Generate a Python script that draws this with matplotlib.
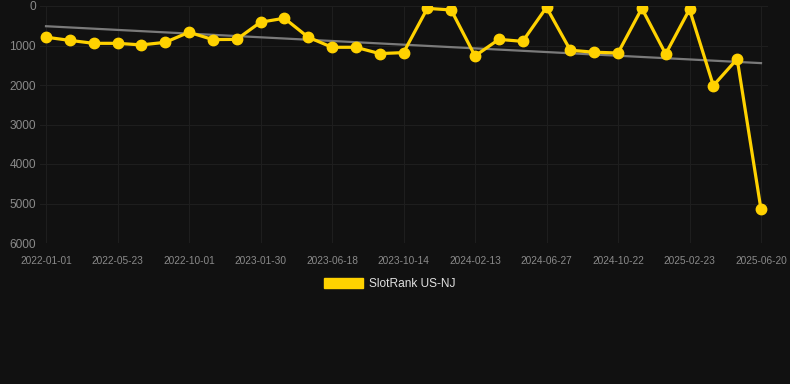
import numpy as np
import matplotlib
matplotlib.use("Agg")
import matplotlib.pyplot as plt
from matplotlib.patches import Patch

plt.rcParams["font.family"] = ["Liberation Sans", "DejaVu Sans"]

# ----------------------------------------
# data
# ----------------------------------------
dates = [
    "2022-01-01", "2022-02-17", "2022-04-06",
    "2022-05-23", "2022-07-06", "2022-08-19",
    "2022-10-01", "2022-11-10", "2022-12-20",
    "2023-01-30", "2023-03-17", "2023-05-02",
    "2023-06-18", "2023-07-27", "2023-09-04",
    "2023-10-14", "2023-11-24", "2024-01-03",
    "2024-02-13", "2024-03-29", "2024-05-13",
    "2024-06-27", "2024-08-04", "2024-09-12",
    "2024-10-22", "2024-12-03", "2025-01-13",
    "2025-02-23", "2025-04-03", "2025-05-12",
    "2025-06-20",
]

rank = [
    790, 870, 945, 945, 985, 920, 665, 850, 845, 410,
    310, 790, 1045, 1045, 1205, 1180, 60, 100, 1265, 845,
    895, 35, 1120, 1170, 1190, 60, 1215, 85, 2015, 1340,
    5150,
]

tick_labels = dates[::3]
series_name = "SlotRank US-NJ"

bg = "#111111"
yellow = "#FFD200"

# ----------------------------------------
# plot
# ----------------------------------------
fig = plt.figure(figsize=(7.9, 3.84), dpi=100, facecolor=bg)

px = 715 / 30
ax = fig.add_axes([40 / 790, 1 - 243 / 384, 728 / 790, 237 / 384], facecolor=bg)

x = np.arange(len(rank))

# linear trend
coef = np.polyfit(x, rank, 1)
ax.plot(x, np.polyval(coef, x), color="#7a7a7a", linewidth=1.6, zorder=2)

ax.plot(
    x,
    rank,
    color=yellow,
    linewidth=2.3,
    marker="o",
    markersize=7.5,
    zorder=3,
)

ax.set_xlim(-6 / px, 30 + 7 / px)
ax.set_ylim(6000, 0)

ax.set_xticks(x[::3])
ax.set_xticklabels(tick_labels)
ax.set_yticks([0, 1000, 2000, 3000, 4000, 5000, 6000])

ax.tick_params(axis="x", colors="#8a8a8a", labelsize=7.3, length=0, pad=9)
ax.tick_params(axis="y", colors="#8a8a8a", labelsize=8.6, length=0, pad=3)

ax.grid(True, color="#1e1e1e", linewidth=0.8)
for s in ax.spines.values():
    s.set_visible(False)

fig.legend(
    handles=[Patch(facecolor=yellow, edgecolor=yellow)],
    labels=[series_name],
    loc="center",
    bbox_to_anchor=(390 / 790, 1 - 284 / 384),
    frameon=False,
    fontsize=8.6,
    labelcolor="#e0e0e0",
    handlelength=3.3,
    handleheight=1.0,
    handletextpad=0.5,
)

fig.savefig("out.png", dpi=100, facecolor=bg)
